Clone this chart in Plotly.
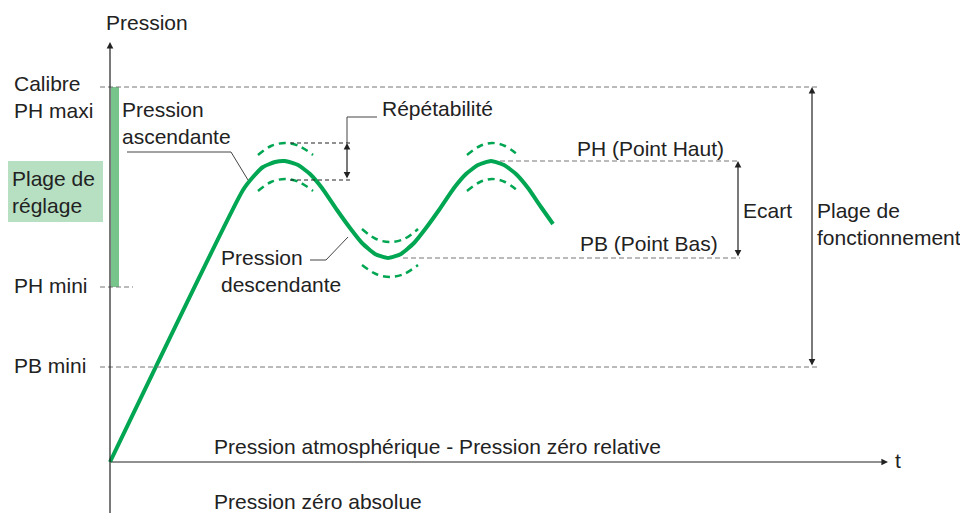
import plotly.graph_objects as go

# ===== 数据（t 与压力，单位任意；原点 = 大气压） =====
P_CALIBRE = 375      # Calibre PH maxi
P_PH_MINI = 175
P_PB_MINI = 95
P_PH = 301           # Point Haut
P_PB = 204           # Point Bas
P_REP_HI = 319       # répétabilité, bornes
P_REP_LO = 282

t_curve = [0, 133, 143, 153, 165, 175, 188, 200, 212, 227, 240, 252, 265, 278,
           291, 304, 316, 329, 344, 356, 368, 381, 394, 406, 418, 431, 443]
p_curve = [0, 272, 285, 295, 300, 301, 297, 288, 274, 252, 234, 219, 208, 204,
           208, 219, 234, 252, 274, 288, 297, 301, 297, 288, 274, 255, 238]

arc_t1 = [148, 161, 175, 189, 203]
arc_t2 = [357, 370, 382, 395, 408]
arc_t3 = [252, 266, 280, 294, 308]
arc_peak_hi = [307, 316, 319, 316, 307]
arc_peak_lo = [271, 280, 283, 280, 271]
arc_trough_hi = [233, 223, 220, 223, 233]
arc_trough_lo = [197, 188, 185, 188, 197]

GREEN = "#00A651"
GREY = "#777777"
INK = "#222222"
FONT = "Liberation Sans, Arial, sans-serif"

fig = go.Figure()

# ===== courbe principale =====
fig.add_trace(go.Scatter(x=t_curve, y=p_curve, mode="lines",
                         line=dict(color=GREEN, width=4, shape="spline", smoothing=0.5)))

# ===== arcs de répétabilité =====
for tt, pp in [(arc_t1, arc_peak_hi), (arc_t1, arc_peak_lo), (arc_t2, arc_peak_hi),
               (arc_t2, arc_peak_lo), (arc_t3, arc_trough_hi), (arc_t3, arc_trough_lo)]:
    fig.add_trace(go.Scatter(x=tt, y=pp, mode="lines",
                             line=dict(color=GREEN, width=2.5, dash="7px,5px", shape="spline")))

# ===== lignes de repère =====
def hline(y, x0, x1, color=GREY, dash="5px,3px"):
    fig.add_shape(type="line", x0=x0, x1=x1, y0=y, y1=y, xref="x", yref="y",
                  line=dict(color=color, width=1, dash=dash))

hline(P_CALIBRE, -10, 708)
hline(P_PH_MINI, -10, 23)
hline(P_PB_MINI, -10, 708)
hline(P_PH, 390, 630)
hline(P_PB, 293, 630)
hline(P_REP_HI, 180, 243, color=INK, dash="4px,3px")
hline(P_REP_LO, 180, 243, color=INK, dash="4px,3px")

# plage de réglage
fig.add_shape(type="rect", x0=1, x1=9, y0=P_PH_MINI, y1=P_CALIBRE,
              fillcolor="#78C58C", line_width=0, layer="below")
fig.add_shape(type="rect", x0=-102, x1=-7, y0=240, y1=301,
              fillcolor="#B7E0C2", line_width=0, layer="below")

# traits de rappel
fig.add_trace(go.Scatter(x=[17, 121, 138], y=[310, 310, 282], mode="lines",
                         line=dict(color="#444444", width=1)))
fig.add_trace(go.Scatter(x=[200, 216, 238], y=[202, 202, 225], mode="lines",
                         line=dict(color="#444444", width=1)))
fig.add_trace(go.Scatter(x=[267, 237, 237], y=[345, 345, 319], mode="lines",
                         line=dict(color="#444444", width=1)))

# ===== axes et flèches =====
def arrow(x0, y0, x1, y1, side="end"):
    fig.add_annotation(x=x1, y=y1, ax=x0, ay=y0, xref="x", yref="y", axref="x", ayref="y",
                       text="", showarrow=True, arrowhead=2, arrowsize=1.1, arrowwidth=1.2,
                       arrowcolor=INK, arrowside=side)

arrow(0, -60, 0, 420)                         # axe pression
arrow(0, 0, 778, 0)                           # axe t
arrow(237, P_REP_LO, 237, P_REP_HI, "end+start")
arrow(628, P_PB, 628, P_PH, "end+start")
arrow(702, P_PB_MINI, 702, P_CALIBRE, "end+start")

# ===== textes =====
labels = [
    (-6, 440, "Pression"),
    (-98, 365, "Calibre<br>PH maxi"),
    (-100, 270, "Plage de<br>réglage"),
    (-98, 177, "PH mini"),
    (-98, 97, "PB mini"),
    (10, 339, "Pression<br>ascendante"),
    (109, 191, "Pression<br>descendante"),
    (270, 354, "Répétabilité"),
    (465, 314, "PH (Point Haut)"),
    (468, 219, "PB (Point Bas)"),
    (631, 252, "Ecart"),
    (705, 238, "Plage de<br>fonctionnement"),
    (102, 16, "Pression atmosphérique - Pression zéro relative"),
    (102, -39, "Pression zéro absolue"),
    (783, 2, "t"),
]
for x, y, s in labels:
    fig.add_annotation(x=x, y=y, text=s, showarrow=False, xanchor="left", yanchor="middle",
                       align="left", font=dict(family=FONT, size=21, color=INK))

# la page ajoute 8 px de marge : figure 960x505 pour tenir dans 968x513
fig.update_layout(
    width=960, height=505,
    margin=dict(l=0, r=0, t=0, b=0),
    paper_bgcolor="white", plot_bgcolor="white",
    showlegend=False,
    xaxis=dict(range=[-102, 858], visible=False, fixedrange=True),
    yaxis=dict(range=[-51, 454], visible=False, fixedrange=True),
)

fig.write_html("out.html")
